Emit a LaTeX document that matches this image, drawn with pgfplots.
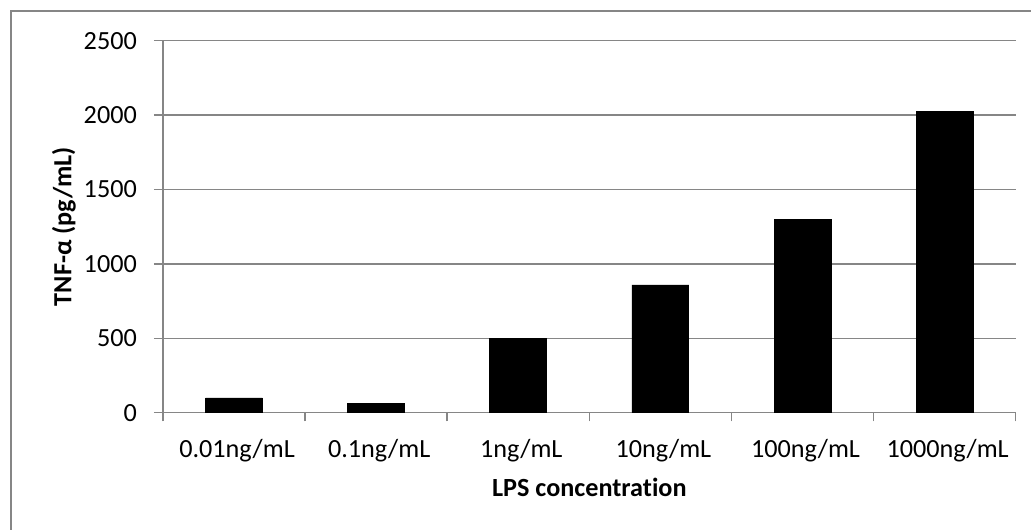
\documentclass[border=0pt]{standalone}
\usepackage{pgfplots}
\pgfplotsset{compat=1.18}
\usepackage{fontspec}
\setmainfont[Ligatures={NoCommon}]{Carlito}
\definecolor{gridgray}{RGB}{134,134,134}
\pgfplotstableread{
x y
0 99
1 65
2 500
3 858
4 1300
5 2023
}\tnfdata
\begin{document}
\fontsize{13.1}{15.7}\selectfont
\begin{tikzpicture}
\useasboundingbox (-81.5pt,-58.15pt) rectangle (434pt,206.35pt);
\draw[gridgray, line width=0.6pt] (-76pt,-80pt) -- (-76pt,200.85pt) -- (520pt,200.85pt);
\begin{axis}[
  scale only axis,
  width=426.35pt, height=186.05pt,
  xmin=-0.5, xmax=5.5,
  ymin=0, ymax=2500,
  ytick={0,500,...,2500},
  xtick=data,
  xticklabels={0.01ng/mL,0.1ng/mL,1ng/mL,10ng/mL,100ng/mL,1000ng/mL},
  minor xtick={-0.5,0.5,...,5.5},
  major x tick style={draw=none},
  minor x tick style={gridgray, line width=0.75pt},
  minor tick length=4.3pt,
  major tick length=4.5pt,
  tick align=outside,
  ytick style={gridgray, line width=0.75pt},
  axis x line*=bottom,
  axis y line*=left,
  axis line style={gridgray, line width=0.75pt, -},
  ymajorgrids,
  major grid style={gridgray, line width=0.75pt},
  /pgf/number format/assume math mode=true,
  /pgf/number format/1000 sep={},
  ticklabel style={font=\fontsize{13.1}{15.7}\selectfont},
  xticklabel style={anchor=base, yshift=-18pt, xshift=1.5pt},
  yticklabel style={anchor=east, xshift=-4pt},
  every axis y label/.style={at={(axis description cs:-0.1161,0.5)}, rotate=90, anchor=center, font=\fontsize{13.1}{15.7}\selectfont\bfseries},
  every axis x label/.style={at={(axis description cs:0.5,-0.2257)}, anchor=base, font=\fontsize{13.1}{15.7}\selectfont\bfseries},
  xlabel={LPS concentration},
  ylabel={TNF-α (pg/mL)},
  clip=false,
]
\addplot[ybar, bar width=0.4, fill=black, draw=black] table[x=x, y=y] {\tnfdata};
\end{axis}
\end{tikzpicture}
\end{document}
